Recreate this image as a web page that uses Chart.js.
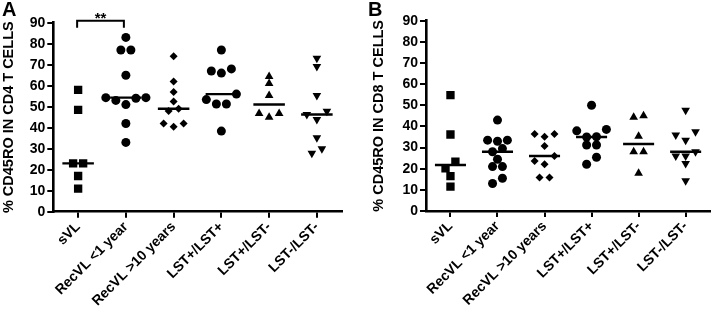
<!DOCTYPE html>
<html><head><meta charset="utf-8">
<script src="https://cdn.jsdelivr.net/npm/chart.js@4/dist/chart.umd.min.js"></script>
<style>
html,body{margin:0;padding:0;background:#fff;}
#wrap{position:relative;width:716px;height:312px;overflow:hidden;background:#fff;}
.box{position:absolute;top:0;width:358px;height:312px;}
#boxA{left:0;} #boxB{left:358px;}
</style></head><body>
<div id="wrap">
  <div class="box" id="boxA"><canvas id="cA"></canvas></div>
  <div class="box" id="boxB"><canvas id="cB"></canvas></div>
</div>
<script>
// ---------- data ----------
const categories = ['sVL', 'RecVL <1 year', 'RecVL >10 years', 'LST+/LST+', 'LST+/LST-', 'LST-/LST-'];
const yTickValues = [0, 10, 20, 30, 40, 50, 60, 70, 80, 90];

// Panel A: % CD45RO in CD4 T cells
const cd4_sVL      = [58, 48.5, 23, 23, 17, 11];
const cd4_recVL1   = [83, 77, 77, 65, 54.3, 54.3, 54, 53, 51, 42, 33];
const cd4_recVL10  = [74, 62, 57, 52.5, 49, 48, 42, 42, 40.5];
const cd4_lstPP    = [77, 68, 67, 66, 56, 53.4, 51.3, 51.3, 38.4];
const cd4_lstPM    = [64.4, 61, 55.3, 46.8, 46.8, 45];
const cd4_lstMM    = [73.1, 69.2, 55.3, 47.8, 46.3, 43.9, 35.2, 30, 27.8];

// Panel B: % CD45RO in CD8 T cells
const cd8_sVL      = [54.8, 36.2, 23.3, 20.2, 16.5, 11.5];
const cd8_recVL1   = [43, 33.5, 33, 33.5, 29.5, 28, 24.5, 21, 21, 15.5, 13];
const cd8_recVL10  = [36.4, 36.4, 35.1, 30.7, 26, 23.6, 22.1, 15.9, 15.9];
const cd8_lstPP    = [50, 38.6, 37.9, 35.1, 35, 31.2, 31.2, 25.4, 22.1];
const cd8_lstPM    = [45, 44.3, 35.4, 28, 28, 17.8];
const cd8_lstMM    = [47.7, 37.5, 35.9, 33.5, 28, 26, 26, 22.5, 14.3];

const groupsA = [cd4_sVL, cd4_recVL1, cd4_recVL10, cd4_lstPP, cd4_lstPM, cd4_lstMM];
const groupsB = [cd8_sVL, cd8_recVL1, cd8_recVL10, cd8_lstPP, cd8_lstPM, cd8_lstMM];

// ---------- styles ----------
const markerStyle  = ['rect', 'circle', 'rectRot', 'circle', 'triangle', 'triangle'];
const markerRadius = [5.9, 4.5, 4.0, 4.5, 5.0, 5.0];
const markerRot    = [0, 0, 0, 0, 0, 180];
const FONT = "'Liberation Sans', Arial, Helvetica, sans-serif";
Chart.defaults.font.family = FONT;
Chart.defaults.color = '#000';

function median(arr) {
  const s = arr.slice().sort((a, b) => a - b);
  const n = s.length;
  return n % 2 ? s[(n - 1) / 2] : (s[n / 2 - 1] + s[n / 2]) / 2;
}
// simple column scatter spreading: points close in value share a row, spread symmetrically
function spread(values, thr, step) {
  const idx = values.map((v, i) => i).sort((a, b) => values[a] - values[b]);
  const off = new Array(values.length).fill(0);
  const clusters = [];
  let cur = [idx[0]];
  for (let k = 1; k < idx.length; k++) {
    if (values[idx[k]] - values[idx[k - 1]] < thr) cur.push(idx[k]);
    else { clusters.push(cur); cur = [idx[k]]; }
  }
  clusters.push(cur);
  clusters.forEach(c => {
    const n = c.length;
    const slots = [];
    for (let j = 0; j < n; j++) slots.push(j - (n - 1) / 2);
    slots.sort((a, b) => Math.abs(a) - Math.abs(b) || a - b);
    c.forEach((pi, j) => { off[pi] = slots[j] * step; });
  });
  return off;
}

function buildDatasets(groups) {
  const ds = [];
  groups.forEach((vals, g) => {
    const off = spread(vals, 3.3, 0.21);
    ds.push({
      type: 'scatter',
      data: vals.map((v, i) => ({ x: g + off[i], y: v })),
      pointStyle: markerStyle[g],
      pointRadius: markerRadius[g],
      pointRotation: markerRot[g],
      pointBackgroundColor: '#000',
      pointBorderColor: '#000',
      pointBorderWidth: 0,
      showLine: false
    });
    const m = median(vals);
    ds.push({
      type: 'line',
      data: [{ x: g - 0.33, y: m }, { x: g + 0.33, y: m }],
      borderColor: '#000',
      borderWidth: 2.4,
      pointRadius: 0,
      fill: false
    });
  });
  return ds;
}

const letterPlugin = {
  id: 'letter',
  afterDraw(chart, args, opts) {
    const ctx = chart.ctx;
    ctx.save();
    ctx.fillStyle = '#000';
    ctx.font = 'bold 20px ' + FONT;
    ctx.textBaseline = 'alphabetic';
    ctx.textAlign = 'left';
    ctx.fillText(opts.text, opts.x, opts.y);
    ctx.restore();
  }
};

const bracketPlugin = {
  id: 'bracket',
  afterDraw(chart, args, opts) {
    if (!opts.show) return;
    const ctx = chart.ctx;
    const xs = chart.scales.x;
    const x0 = xs.getPixelForValue(opts.from) - 1;
    const x1 = xs.getPixelForValue(opts.to) - 2;
    const yTop = chart.chartArea.top - 2;
    const yLeg = chart.chartArea.top + 5;
    ctx.save();
    ctx.strokeStyle = '#000';
    ctx.lineWidth = 2;
    ctx.beginPath();
    ctx.moveTo(x0, yLeg); ctx.lineTo(x0, yTop); ctx.lineTo(x1, yTop); ctx.lineTo(x1, yLeg);
    ctx.stroke();
    ctx.fillStyle = '#000';
    ctx.font = 'bold 15px ' + FONT;
    ctx.textAlign = 'center';
    ctx.textBaseline = 'alphabetic';
    ctx.fillText(opts.label, (x0 + x1) / 2, yTop + 2);
    ctx.restore();
  }
};

function makeChart(canvasId, groups, cfg) {
  return new Chart(document.getElementById(canvasId), {
    type: 'scatter',
    data: { datasets: buildDatasets(groups) },
    plugins: [letterPlugin, bracketPlugin],
    options: {
      responsive: true,
      maintainAspectRatio: false,
      animation: false,
      devicePixelRatio: 1,
      layout: { padding: { top: cfg.top, right: cfg.right, left: 0, bottom: 0 } },
      plugins: {
        legend: { display: false },
        tooltip: { enabled: false },
        letter: { text: cfg.letter, x: cfg.letterX, y: 15.5 },
        bracket: { show: cfg.bracket, from: 0, to: 1, label: '**' }
      },
      scales: {
        x: {
          type: 'linear',
          min: -0.52, max: 5.52,
          afterBuildTicks: s => { s.ticks = categories.map((c, i) => ({ value: i })); },
          afterFit: s => { s.height = 312 - cfg.bottom; },
          ticks: {
            callback: v => categories[v],
            autoSkip: false, maxRotation: 45, minRotation: 45,
            font: { size: 14, weight: 'bold' }, color: '#000', padding: 1
          },
          grid: { drawOnChartArea: false, drawTicks: true, tickLength: 6, color: '#000', lineWidth: 2 },
          border: { display: true, color: '#000', width: 2.6 }
        },
        y: {
          min: 0, max: 90,
          afterBuildTicks: s => { s.ticks = yTickValues.map(v => ({ value: v })); },
          afterFit: s => { s.width = cfg.left; },
          ticks: { font: { size: 14, weight: 'bold' }, color: '#000', padding: 2 },
          grid: { drawOnChartArea: false, drawTicks: true, tickLength: 6, color: '#000', lineWidth: 2 },
          border: { display: true, color: '#000', width: 2.6 },
          title: {
            display: true, text: cfg.ytitle, color: '#000',
            font: { size: 14.5, weight: 'bold' }, padding: { top: cfg.titlePad, bottom: 0 }
          }
        }
      }
    }
  });
}

makeChart('cA', groupsA, { top: 22.7, bottom: 211.7, left: 53.3, right: 16.3, letter: 'A', letterX: 2,
  ytitle: '% CD45RO IN CD4 T CELLS', titlePad: 0.5, bracket: true });
makeChart('cB', groupsB, { top: 20.7, bottom: 211, left: 68, right: 1, letter: 'B', letterX: 10,
  ytitle: '% CD45RO IN CD8 T CELLS', titlePad: 12.5, bracket: false });
</script>
</body></html>
